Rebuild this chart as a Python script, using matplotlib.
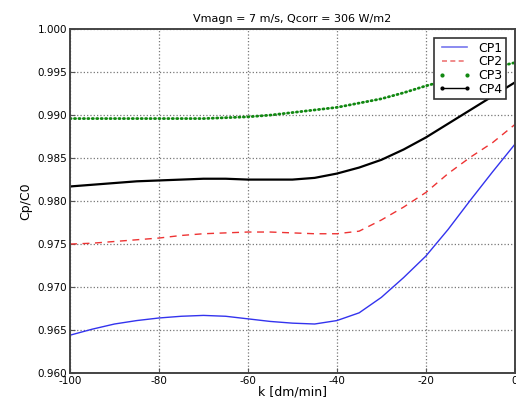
import numpy as np
import matplotlib
matplotlib.use('Agg')
import matplotlib.pyplot as plt
from matplotlib.lines import Line2D

# values
k = [-100, -95, -90, -85, -80, -75, -70, -65, -60, -55, -50,
     -45, -40, -35, -30, -25, -20, -15, -10, -5, 0]
cp1 = [0.9644, 0.9651, 0.9657, 0.9661, 0.9664, 0.9666, 0.9667, 0.9666, 0.9663, 0.9660, 0.9658,
       0.9657, 0.9661, 0.9670, 0.9688, 0.9711, 0.9736, 0.9767, 0.9801, 0.9834, 0.9866]
cp2 = [0.9750, 0.9751, 0.9753, 0.9755, 0.9757, 0.9760, 0.9762, 0.9763, 0.9764, 0.9764, 0.9763,
       0.9762, 0.9762, 0.9765, 0.9778, 0.9793, 0.9810, 0.9832, 0.9851, 0.9868, 0.9889]
cp3 = [0.9896, 0.9896, 0.9896, 0.9896, 0.9896, 0.9896, 0.9896, 0.9897, 0.9898, 0.9900, 0.9903,
       0.9906, 0.9909, 0.9914, 0.9919, 0.9926, 0.9934, 0.9941, 0.9948, 0.9955, 0.9961]
cp4 = [0.9817, 0.9819, 0.9821, 0.9823, 0.9824, 0.9825, 0.9826, 0.9826, 0.9825, 0.9825, 0.9825,
       0.9827, 0.9832, 0.9839, 0.9848, 0.9860, 0.9874, 0.9890, 0.9906, 0.9922, 0.9938]
names = ['CP1', 'CP2', 'CP3', 'CP4']
xticks = [-100, -80, -60, -40, -20, 0]
yticks = [0.960, 0.965, 0.970, 0.975, 0.980, 0.985, 0.990, 0.995, 1.000]

fig = plt.figure(figsize=(5.16, 4.05), dpi=100)
ax = fig.add_axes([0.1357, 0.079, 0.862, 0.849])

ax.plot(k, cp1, color='#3333ee', lw=1.0)
ax.plot(k, cp2, color='#ee3333', lw=1.0, ls=(0, (5, 4)))
ax.plot(k, cp3, color='#118811', lw=2.0, ls=(0, (0.4, 1.2)), dash_capstyle='round')
ax.plot(k, cp4, color='black', lw=1.6)

ax.set_xlim(-100, 0)
ax.set_ylim(0.960, 1.000)
ax.set_xticks(xticks)
ax.set_yticks(yticks)
ax.set_xticklabels([str(x) for x in xticks])
ax.set_yticklabels(['%.3f' % y for y in yticks])
ax.tick_params(direction='in', labelsize=7.5, pad=2, color='#555555')
ax.grid(True, color='#777777', ls=':', lw=0.9)
for s in ax.spines.values():
    s.set_linewidth(1.4)
    s.set_color('#444444')

ax.set_title('Vmagn = 7 m/s, Qcorr = 306 W/m2', fontsize=8, pad=5)
ax.set_xlabel('k [dm/min]', fontsize=9, labelpad=0)
ax.set_ylabel('Cp/C0', fontsize=9, labelpad=4)

handles = [
    Line2D([], [], color='#7777ee', lw=1.2),
    Line2D([], [], color='#ee7777', lw=1.2, ls=(0, (3, 2))),
    Line2D([], [], color='#118811', ls='none', marker='.', ms=4),
    Line2D([], [], color='black', lw=1.0, marker='.', ms=4),
]
leg = ax.legend(handles, names, loc='upper right', numpoints=2, fontsize=9,
                fancybox=False, framealpha=1, borderaxespad=0.7,
                handlelength=2.6, labelspacing=0.05, borderpad=0.3,
                handletextpad=0.6)
leg.get_frame().set_edgecolor('#333333')
leg.get_frame().set_linewidth(1.2)

fig.savefig('out.png', dpi=100)
